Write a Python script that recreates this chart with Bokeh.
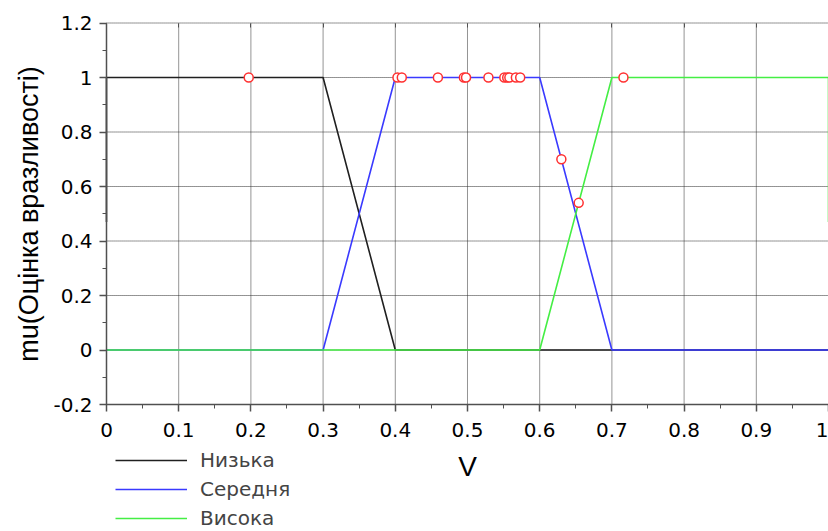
from bokeh.plotting import figure
from bokeh.models import FixedTicker, Legend, LegendItem, LinearAxis
from bokeh.embed import file_html
from bokeh.resources import INLINE

# ---- data ----
low_x = [0, 0, 0.3, 0.4, 1]
low_y = [0.47, 1, 1, 0, 0]
med_x = [0, 0.3, 0.4, 0.6, 0.7, 1]
med_y = [0, 0, 1, 1, 0, 0]
high_x = [0, 0.6, 0.7, 1, 1]
high_y = [0, 0, 1, 1, 0.47]

pts_x = [0.197, 0.403, 0.409, 0.459, 0.495, 0.498, 0.529, 0.551, 0.555, 0.558,
         0.567, 0.573, 0.630, 0.654, 0.716]
pts_y = [1, 1, 1, 1, 1, 1, 1, 1, 1, 1, 1, 1, 0.70, 0.54, 1]

series_names = ["Низька", "Середня", "Висока"]

x_ticks = [0, 0.1, 0.2, 0.3, 0.4, 0.5, 0.6, 0.7, 0.8, 0.9, 1]
x_tick_labels = ["0", "0.1", "0.2", "0.3", "0.4", "0.5", "0.6", "0.7", "0.8", "0.9", "1"]
x_minor = [0.05, 0.15, 0.25, 0.35, 0.45, 0.55, 0.65, 0.75, 0.85, 0.95]
y_ticks = [-0.2, 0, 0.2, 0.4, 0.6, 0.8, 1, 1.2]
y_tick_labels = ["-0.2", "0", "0.2", "0.4", "0.6", "0.8", "1", "1.2"]
y_minor = [-0.1, 0.1, 0.3, 0.5, 0.7, 0.9, 1.1]
x_lo, x_hi = 0, 1
y_lo, y_hi = -0.2, 1.2

x_title = "V"
y_title = "mu(Оцінка вразливості)"

FONT = "DejaVu Sans"
LABEL_FONT = "Liberation Sans"
GRID_COLOR = "#2a2a2a"
AXIS_COLOR = "#505050"

# the frame covers the whole canvas; the axes box is placed inside it
p = figure(width=828, height=531, x_range=(-0.1468, 1.0), y_range=(-0.666, 1.2826),
           output_backend="svg", toolbar_location=None,
           min_border_left=0, min_border_right=0, min_border_top=0,
           min_border_bottom=0)
p.outline_line_color = None
p.background_fill_color = "white"
p.xgrid.visible = False
p.ygrid.visible = False

# dotted grid inside the axes box
p.segment(x0=x_ticks, y0=[y_lo] * len(x_ticks), x1=x_ticks, y1=[y_hi] * len(x_ticks),
          line_color=GRID_COLOR, line_dash="1 1", line_width=1, level="underlay")
p.segment(x0=[x_lo] * len(y_ticks), y0=y_ticks, x1=[x_hi] * len(y_ticks), y1=y_ticks,
          line_color=GRID_COLOR, line_dash="1 1", line_width=1, level="underlay")

# axes
p.xaxis.fixed_location = y_lo
p.yaxis.fixed_location = x_lo
p.xaxis.bounds = (x_lo, x_hi)
p.yaxis.bounds = (y_lo, y_hi)
p.xaxis.ticker = FixedTicker(ticks=x_ticks, minor_ticks=x_minor)
p.yaxis.ticker = FixedTicker(ticks=y_ticks, minor_ticks=y_minor)
p.xaxis.major_label_overrides = dict(zip(x_ticks, x_tick_labels))
p.yaxis.major_label_overrides = dict(zip(y_ticks, y_tick_labels))
for ax in (p.xaxis, p.yaxis):
    ax.axis_line_color = AXIS_COLOR
    ax.axis_line_width = 1.5
    ax.major_tick_line_color = AXIS_COLOR
    ax.minor_tick_line_color = AXIS_COLOR
    ax.major_tick_line_width = 1.5
    ax.minor_tick_line_width = 1
    ax.major_tick_in = 0
    ax.major_tick_out = 7
    ax.minor_tick_in = 0
    ax.minor_tick_out = 4
    ax.major_label_text_font = FONT
    ax.major_label_text_font_size = "20px"
    ax.major_label_text_color = "black"
    ax.axis_label_text_font = LABEL_FONT
    ax.axis_label_text_font_style = "normal"
    ax.axis_label_text_color = "black"
p.xaxis.axis_label_text_font_size = "28px"
p.yaxis.axis_label_text_font_size = "27px"
p.xaxis.major_label_standoff = 11
p.yaxis.major_label_standoff = 7
p.xaxis.axis_label = x_title
p.yaxis.axis_label = y_title
p.xaxis.axis_label_standoff = 11
p.yaxis.axis_label_standoff = 6

# small ticks hanging from the top edge of the box
top = LinearAxis(fixed_location=y_hi, bounds=(x_lo, x_hi),
                 ticker=FixedTicker(ticks=x_ticks, minor_ticks=[]),
                 axis_line_color=None, major_tick_line_color=AXIS_COLOR,
                 major_tick_in=4, major_tick_out=0, minor_tick_line_color=None,
                 major_label_text_color=None)
p.add_layout(top, "above")

r_low = p.line(low_x, low_y, line_color="#202020", line_width=1.6)
r_med = p.line(med_x, med_y, line_color="#3a3aff", line_width=1.6)
r_high = p.line(high_x, high_y, line_color="#44ee44", line_width=1.6)
p.scatter(pts_x, pts_y, marker="circle", size=9, fill_color="white",
          line_color="#ff3030", line_width=1.5)

legend = Legend(items=[LegendItem(label=series_names[0], renderers=[r_low]),
                       LegendItem(label=series_names[1], renderers=[r_med]),
                       LegendItem(label=series_names[2], renderers=[r_high])],
                location=(115, 1), glyph_width=72, glyph_height=20,
                label_height=20, spacing=5, label_standoff=13, padding=0,
                margin=0, border_line_color=None, background_fill_alpha=0,
                label_text_font=FONT, label_text_font_size="20px")
p.add_layout(legend)

open("out.html", "w").write(file_html(p, INLINE))
